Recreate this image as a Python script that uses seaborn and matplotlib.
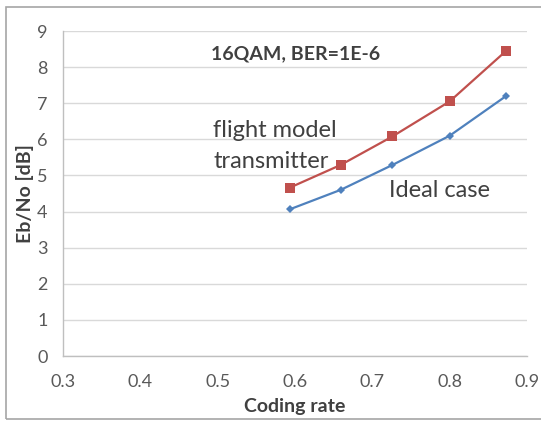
import matplotlib
matplotlib.use("Agg")
import matplotlib.pyplot as plt
import seaborn as sns
import pandas as pd
from matplotlib.patches import Rectangle

# ===== Data =====
coding_rate = [0.593, 0.659, 0.726, 0.800, 0.873]
flight_model = [4.66, 5.29, 6.08, 7.05, 8.45]
ideal_case = [4.06, 4.60, 5.29, 6.10, 7.20]

x_ticks = [0.3, 0.4, 0.5, 0.6, 0.7, 0.8, 0.9]
y_ticks = list(range(0, 10))

df = pd.DataFrame({
    "rate": coding_rate * 2,
    "ebno": flight_model + ideal_case,
    "series": ["flight"] * len(coding_rate) + ["ideal"] * len(coding_rate),
})

sns.set_style("white")
plt.rcParams["font.family"] = ["Lato", "DejaVu Sans"]

text_col = "#595959"
grid_col = "#d9d9d9"
axis_col = "#bfbfbf"

fig = plt.figure(figsize=(5.41, 4.23), dpi=100)
ax = fig.add_axes([63 / 541, 1 - 356 / 423, (527 - 63) / 541, (356 - 31) / 423])

# outer chart-area frame
fig.patches.append(Rectangle((6 / 541, 4 / 423), 540 / 541, 412 / 423,
                             transform=fig.transFigure, fill=False,
                             edgecolor="#a6a6a6", linewidth=1.2))

sns.lineplot(data=df[df.series == "flight"], x="rate", y="ebno", ax=ax,
             color="#C0504D", marker="s", markersize=6.5, markeredgewidth=0,
             linewidth=1.6)
sns.lineplot(data=df[df.series == "ideal"], x="rate", y="ebno", ax=ax,
             color="#4F81BD", marker="D", markersize=4.5, markeredgewidth=0,
             linewidth=1.6)

ax.set_xlim(0.3, 0.9)
ax.set_ylim(0, 9)
ax.set_xticks(x_ticks)
ax.set_yticks(y_ticks)
ax.set_xticklabels([f"{v:.1f}" for v in x_ticks])
ax.grid(axis="y", color=grid_col, linewidth=1)
ax.set_axisbelow(True)

for s in ["top", "right"]:
    ax.spines[s].set_visible(False)
for s in ["left", "bottom"]:
    ax.spines[s].set_color(axis_col)
    ax.spines[s].set_linewidth(1)

ax.tick_params(axis="both", colors=text_col, labelsize=13, length=4,
               color=axis_col, direction="out")
ax.tick_params(axis="x", pad=9)
ax.tick_params(axis="y", pad=7)

ax.set_xlabel("Coding rate", fontsize=14, fontweight="bold", color="#404040", labelpad=6)
ax.set_ylabel("Eb/No [dB]", fontsize=14, fontweight="bold", color="#404040", labelpad=2)

ax.text(0.491, 8.38, "16QAM, BER=1E-6", fontsize=14, fontweight="bold",
        color="#404040", va="center", ha="left")
ax.text(0.494, 6.25, "flight model", fontsize=17, color="#404040", va="center", ha="left")
ax.text(0.494, 5.38, "transmitter", fontsize=17, color="#404040", va="center", ha="left")
ax.text(0.721, 4.58, "Ideal case", fontsize=17, color="#404040", va="center", ha="left")

fig.savefig("out.png", dpi=100)
